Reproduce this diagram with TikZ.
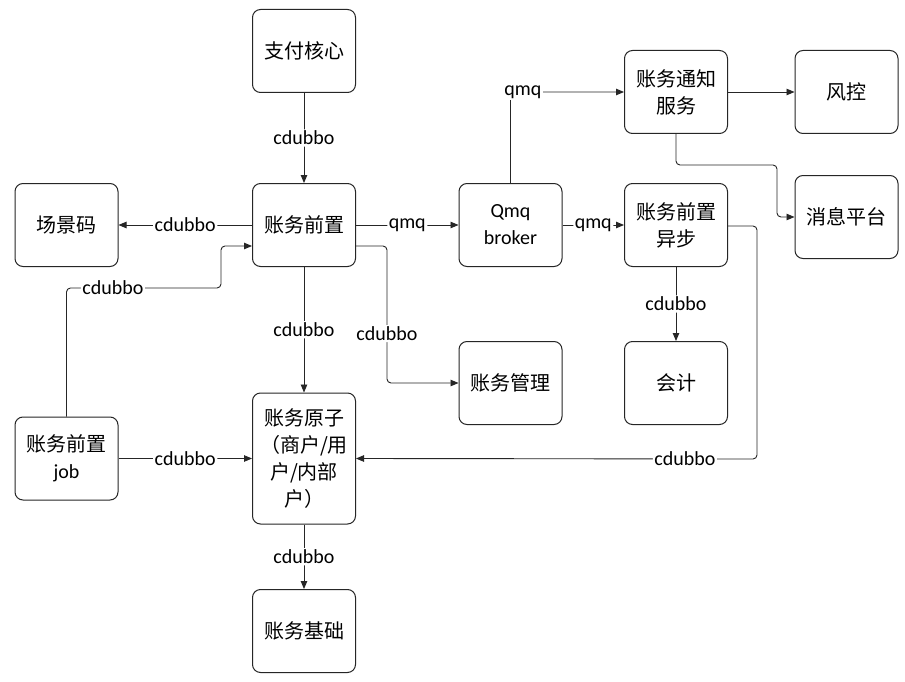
\documentclass[tikz,border=0pt]{standalone}
\usepackage{fontspec}
\setmainfont{Carlito}
\newfontfamily\cjk{Noto Sans CJK SC}
\usetikzlibrary{arrows.meta,positioning,calc}

\tikzset{
  box/.style={draw=black!85,line width=1pt,rounded corners=8pt,
    minimum width=103pt,minimum height=83pt,align=center,inner sep=0pt,
    font=\cjk\fontsize{20}{27}\selectfont},
  lbl/.style={fill=white,inner sep=1.5pt,font=\fontsize{20}{24}\selectfont},
  arr/.style={draw=black!85,line width=0.9pt,rounded corners=4pt,
    -{Stealth[length=8pt,width=6.5pt,inset=0pt]}}
}

\begin{document}
\begin{tikzpicture}[x=1pt,y=-1pt]
    \useasboundingbox[fill=white] (0,0) rectangle (905,682);
    \node[box] (zfhx) at (304,51)    {支付核心};
    \node[box] (zwqz) at (304,225)   {账务前置};
    \node[box] (cjm)  at (66.5,225)  {场景码};
    \node[box] (qmq)  at (510.5,225) {\rmfamily Qmq\\\rmfamily broker};
    \node[box] (qzyb) at (676,225)   {账务前置\\异步};
    \node[box] (tzfw) at (676,92)    {账务通知\\服务};
    \node[box] (fk)   at (846.5,92)  {风控};
    \node[box] (xxpt) at (846.5,217) {消息平台};
    \node[box] (zwgl) at (510.5,383) {账务管理};
    \node[box] (kj)   at (676,383)   {会计};
    \node[box] (job)  at (66.5,458.5) {账务前置\\\rmfamily job};
    \node[box,minimum height=131pt] (yz) at (304,458.5) {账务原子\\（商户/用\\户/内部\\户）};
    \node[box] (jc)   at (304,631)   {账务基础};
    % straight links
    \foreach \from/\to/\lab in {zfhx/zwqz/cdubbo,zwqz/cjm/cdubbo,zwqz/qmq/qmq,
        qmq/qzyb/qmq,zwqz/yz/cdubbo,job/yz/cdubbo,qzyb/kj/cdubbo,yz/jc/cdubbo}
      \draw[arr] (\from) -- node[lbl] {\lab} (\to);
    \draw[arr] (tzfw) -- (fk);
    % bent links
    \draw[arr] (qmq.north) |- node[lbl,pos=0.555] {qmq} (tzfw.west);
    \draw[arr] (tzfw.south) |- (777,165) |- (xxpt.west);
    \draw[arr] ($(zwqz.east)+(0,21)$) -| node[lbl,pos=0.82] {cdubbo} (387,383) -- (zwgl.west);
    \draw[arr] (job.north) |- node[lbl,pos=0.65] {cdubbo} (221,288) |- ($(zwqz.west)+(0,21)$);
    \draw[arr] ($(qzyb.east)+(0,1)$) -| (757,459) -- node[lbl,pos=0.18] {cdubbo} (yz.east);
\end{tikzpicture}
\end{document}
